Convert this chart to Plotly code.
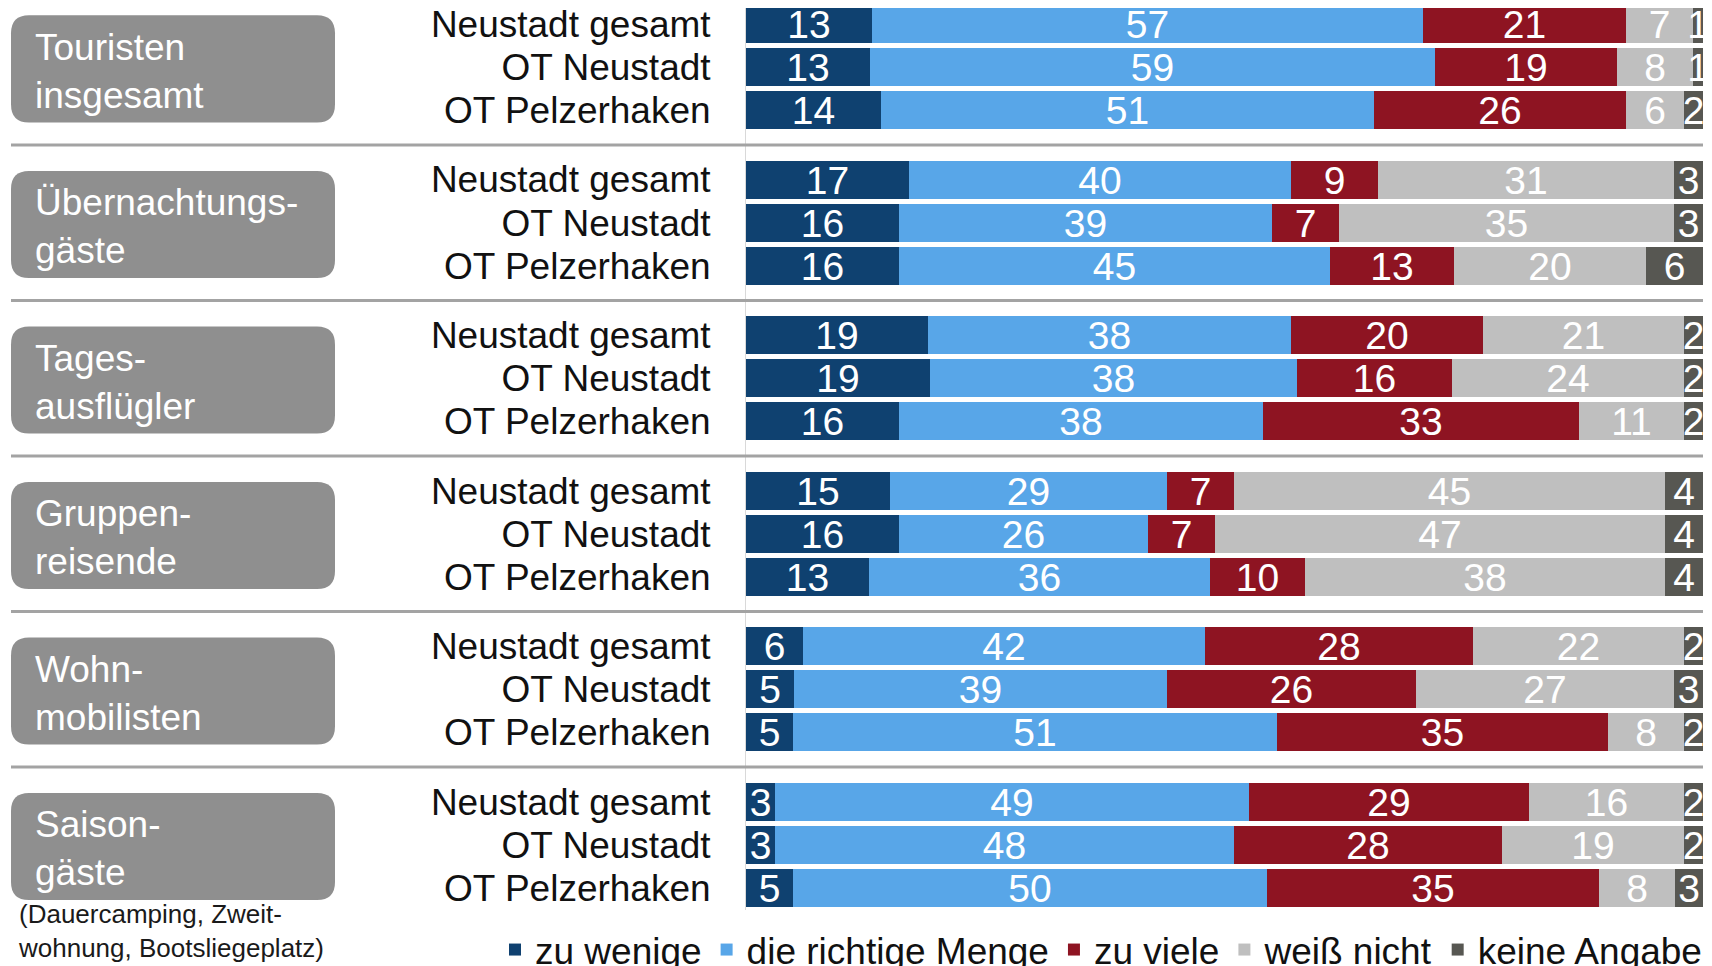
import plotly.graph_objects as go

# ---------------- data ----------------
group_labels = ["Touristen<br>insgesamt", "Übernachtungs-<br>gäste", "Tages-<br>ausflügler",
                "Gruppen-<br>reisende", "Wohn-<br>mobilisten", "Saison-<br>gäste"]
group_note = "(Dauercamping, Zweit-<br>wohnung, Bootsliegeplatz)"
row_labels = ["Neustadt gesamt", "OT Neustadt", "OT Pelzerhaken"]

series_names = ["zu wenige", "die richtige Menge", "zu viele", "weiß nicht", "keine Angabe"]
zu_wenige = [13, 13, 14, 17, 16, 16, 19, 19, 16, 15, 16, 13, 6, 5, 5, 3, 3, 5]
richtige_menge = [57, 59, 51, 40, 39, 45, 38, 38, 38, 29, 26, 36, 42, 39, 51, 49, 48, 50]
zu_viele = [21, 19, 26, 9, 7, 13, 20, 16, 33, 7, 7, 10, 28, 26, 35, 29, 28, 35]
weiss_nicht = [7, 8, 6, 31, 35, 20, 21, 24, 11, 45, 47, 38, 22, 27, 8, 16, 19, 8]
keine_angabe = [1, 1, 2, 3, 3, 6, 2, 2, 2, 4, 4, 4, 2, 3, 2, 2, 2, 3]
series_values = [zu_wenige, richtige_menge, zu_viele, weiss_nicht, keine_angabe]

# ---------------- styles ----------------
colors = ["#0F4170", "#58A6E8", "#8E1422", "#BFBFBF", "#575752"]
FONT = "Liberation Sans, Arial, sans-serif"
OFF = 8                      # page body margin offset
W, H = 1712 - OFF, 966 - OFF
ML, MR, MT, MB = 746 - OFF, 9, 0, 56
PW = W - ML - MR
PH = H - MT - MB
GROUP_PITCH = 3.6
n_groups = len(group_labels)
n_rows = len(row_labels)
UNIT = 43.2                  # px per row unit
first_center = 24 - OFF      # px from top of figure

ypos = [g * GROUP_PITCH + r for g in range(n_groups) for r in range(n_rows)]
yticks = row_labels * n_groups
y_top = -(first_center - MT) / UNIT
y_bot = y_top + PH / UNIT


def px(xref_px):
    return (xref_px - OFF - ML) / PW


def py(yref_px):
    return 1 - (yref_px - OFF - MT) / PH


fig = go.Figure()
for name, vals, col in zip(series_names, series_values, colors):
    fig.add_trace(go.Bar(
        y=ypos, x=vals, orientation="h", name=name,
        marker=dict(color=col, line=dict(width=0)),
        text=[str(v) for v in vals], textposition="inside", textangle=0,
        insidetextanchor="middle", constraintext="none", cliponaxis=True,
        textfont=dict(color="white", size=39, family=FONT),
        width=0.88, hoverinfo="name+x",
    ))

shapes = []
for g in range(n_groups - 1):
    ysep = g * GROUP_PITCH + (n_rows - 1) + (GROUP_PITCH - (n_rows - 1)) / 2
    shapes.append(dict(type="line", xref="paper", yref="y",
                       x0=px(11), x1=1.0, y0=ysep, y1=ysep,
                       line=dict(color="#A3A3A3", width=3), layer="above"))

bx0, bx1 = px(11), px(335)
half_h = 1.24
rx = 18 / PW
ry = 18 / UNIT
annotations = []
for g, lab in enumerate(group_labels):
    yc = g * GROUP_PITCH + 1 + 0.04
    y0, y1 = yc - half_h, yc + half_h
    path = (f"M {bx0+rx},{y0} L {bx1-rx},{y0} Q {bx1},{y0} {bx1},{y0+ry} "
            f"L {bx1},{y1-ry} Q {bx1},{y1} {bx1-rx},{y1} L {bx0+rx},{y1} "
            f"Q {bx0},{y1} {bx0},{y1-ry} L {bx0},{y0+ry} Q {bx0},{y0} {bx0+rx},{y0} Z")
    shapes.append(dict(type="path", xref="paper", yref="y", path=path,
                       fillcolor="#8F8F8F", line=dict(width=0), layer="below"))
    annotations.append(dict(xref="paper", yref="y", x=px(33), y=yc + 0.05,
                            xanchor="left", yanchor="middle", align="left",
                            text=lab, showarrow=False,
                            font=dict(family=FONT, size=37, color="white")))

annotations.append(dict(xref="paper", yref="paper", x=px(16), y=py(931),
                        xanchor="left", yanchor="middle", align="left",
                        text=group_note, showarrow=False,
                        font=dict(family=FONT, size=26, color="#1A1A1A")))

fig.update_layout(
    width=W, height=H, margin=dict(l=ML, r=MR, t=MT, b=MB, autoexpand=False),
    barmode="stack", barnorm="percent", bargap=0,
    paper_bgcolor="white", plot_bgcolor="white",
    font=dict(family=FONT, color="#111111"),
    uniformtext=dict(minsize=39, mode="show"),
    xaxis=dict(range=[0, 100], visible=False, fixedrange=True),
    yaxis=dict(tickvals=ypos, ticktext=yticks, range=[y_bot, y_top],
               tickfont=dict(family=FONT, size=37, color="#111111"),
               ticks="", ticklabelstandoff=27, ticklabeloverflow="allow",
               showgrid=False, zeroline=False,
               showline=True, linecolor="#D9D9D9", linewidth=1, fixedrange=True,
               automargin=False),
    showlegend=True,
    legend=dict(orientation="h", xref="paper", yref="paper",
                x=px(495), xanchor="left", y=py(950), yanchor="middle",
                font=dict(family=FONT, size=37, color="#111111"),
                bgcolor="rgba(0,0,0,0)", traceorder="normal", itemclick=False,
                borderwidth=0),
    shapes=shapes, annotations=annotations,
)

fig.write_html("out.html")
